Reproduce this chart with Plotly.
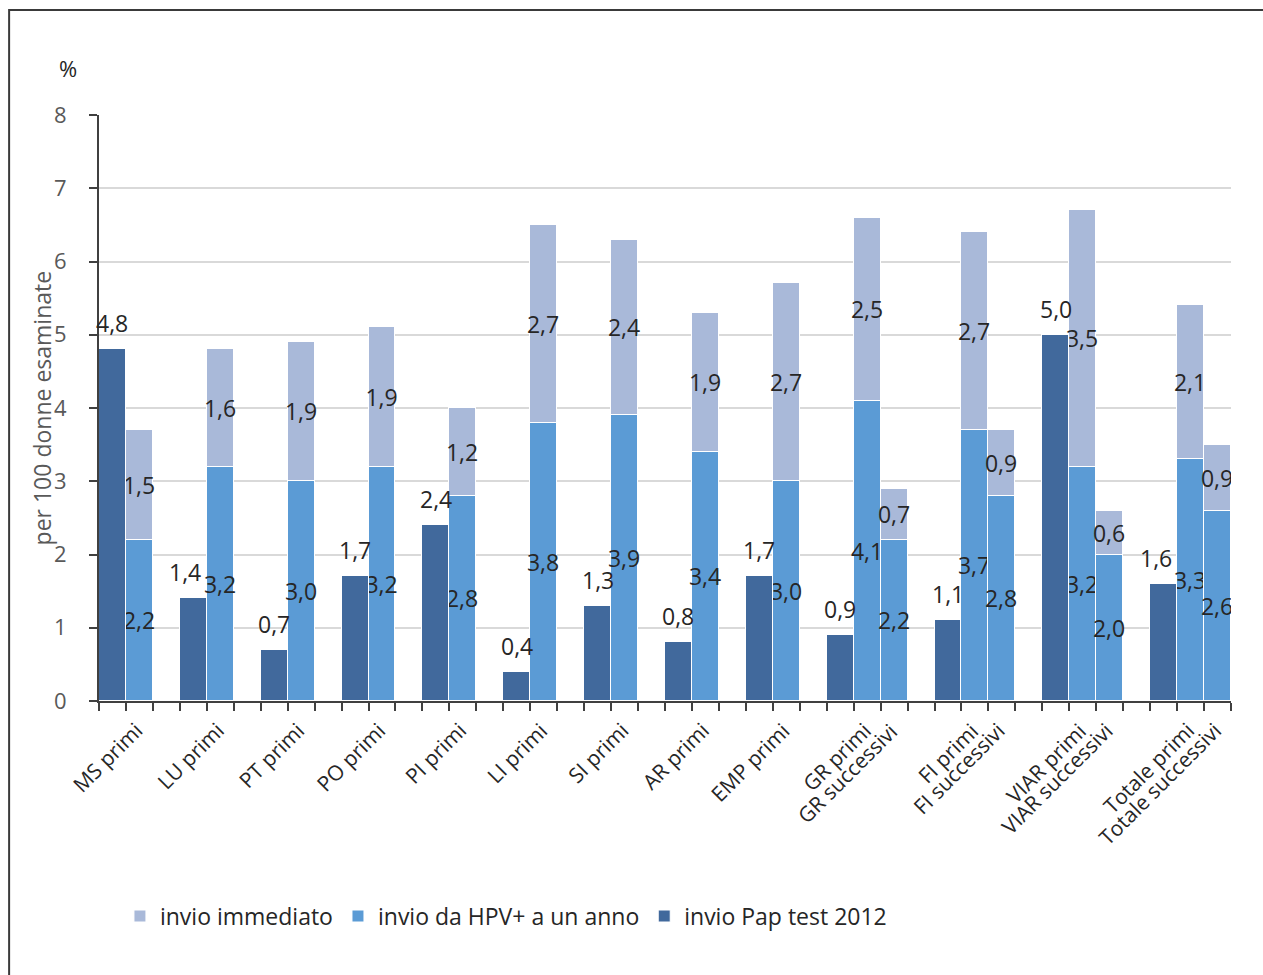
import plotly.graph_objects as go

# Screening programmes (areas) and referral rates per 100 women screened
groups = ["MS", "LU", "PT", "PO", "PI", "LI", "SI", "AR", "EMP", "GR", "FI", "VIAR", "Totale"]
pap_2012 = [4.8, 1.4, 0.7, 1.7, 2.4, 0.4, 1.3, 0.8, 1.7, 0.9, 1.1, 5.0, 1.6]
primi_un_anno = [2.2, 3.2, 3.0, 3.2, 2.8, 3.8, 3.9, 3.4, 3.0, 4.1, 3.7, 3.2, 3.3]
primi_immediato = [1.5, 1.6, 1.9, 1.9, 1.2, 2.7, 2.4, 1.9, 2.7, 2.5, 2.7, 3.5, 2.1]
successivi_un_anno = [None] * 9 + [2.2, 2.8, 2.0, 2.6]
successivi_immediato = [None] * 9 + [0.7, 0.9, 0.6, 0.9]

legend_names = ["invio immediato", "invio da HPV+ a un anno", "invio Pap test 2012"]

C_PAP = "#41699C"
C_ANNO = "#5B9BD5"
C_IMM = "#A9B9D9"
TXT = "#262626"
GREY = "#595959"
FONT = "Open Sans"
LBL = 23
PX_PER_UNIT = 586 / 8  # plot height / y range


def fmt(v):
    return f"{v:.1f}".replace(".", ",")


# lay out bar slots: Pap bar, HPV primi, optional HPV successivi, then a gap slot
x_pap, x_hpv, y_anno, y_imm = [], [], [], []
cat_x, cat_txt = [], []
slot = 0
for i, g in enumerate(groups):
    x_pap.append(slot)
    x_hpv.append(slot + 1)
    y_anno.append(primi_un_anno[i])
    y_imm.append(primi_immediato[i])
    cat_x.append(slot + 1)
    cat_txt.append(f"{g} primi")
    if successivi_un_anno[i] is not None:
        x_hpv.append(slot + 2)
        y_anno.append(successivi_un_anno[i])
        y_imm.append(successivi_immediato[i])
        cat_x.append(slot + 2)
        cat_txt.append(f"{g} successivi")
        slot += 4
    else:
        slot += 3
n_slots = slot - 1  # number of bar slots (no trailing gap after the last group)

bar_line = dict(color="white", width=1)

fig = go.Figure()
fig.add_trace(go.Bar(
    x=x_hpv, y=y_anno, name=legend_names[1], legendrank=2, width=1,
    marker=dict(color=C_ANNO, line=bar_line),
    text=[fmt(v) for v in y_anno], textposition="inside", insidetextanchor="middle",
    textangle=0, constraintext="none",
    insidetextfont=dict(family=FONT, size=LBL, color=TXT),
))
fig.add_trace(go.Bar(
    x=x_hpv, y=y_imm, name=legend_names[0], legendrank=1, width=1,
    marker=dict(color=C_IMM, line=bar_line),
    text=[fmt(v) for v in y_imm], textposition="inside", insidetextanchor="middle",
    textangle=0, constraintext="none",
    insidetextfont=dict(family=FONT, size=LBL, color=TXT),
))
fig.add_trace(go.Bar(
    x=x_pap, y=pap_2012, name=legend_names[2], legendrank=3, width=1,
    marker=dict(color=C_PAP, line=bar_line),
))

# value labels above the Pap test bars; nudged left when they would collide
# with the label of the neighbouring HPV bar
lift = 8
for i, (xp, v) in enumerate(zip(x_pap, pap_2012)):
    centre = v + (lift + LBL / 2) / PX_PER_UNIT
    neighbour = primi_un_anno[i] / 2
    clash = abs(centre - neighbour) < 0.3
    fig.add_annotation(
        x=xp, y=v, xref="x", yref="y", text=fmt(v), showarrow=False,
        xanchor="center", yanchor="bottom", yshift=lift, xshift=-8 if clash else 0,
        font=dict(family=FONT, size=LBL, color=TXT),
    )

# category labels, rotated, one under each HPV bar
for cx, ct in zip(cat_x, cat_txt):
    fig.add_annotation(
        x=cx, y=0, xref="x", yref="y", text=ct, textangle=-45,
        showarrow=False, xanchor="right", yanchor="top",
        xshift=12, yshift=-13,
        font=dict(family=FONT, size=21, color=TXT),
    )

fig.add_annotation(
    x=-0.027, y=1.08, xref="paper", yref="paper", text="%", showarrow=False,
    xanchor="center", yanchor="middle",
    font=dict(family=FONT, size=22, color=TXT),
)
fig.add_annotation(
    x=-0.05, y=0.5, xref="paper", yref="paper", text="per 100 donne esaminate",
    textangle=-90, showarrow=False, xanchor="center", yanchor="middle",
    font=dict(family=FONT, size=23, color=GREY),
)

# outer chart frame
fig.add_shape(type="rect", xref="paper", yref="paper",
              x0=-0.0794, x1=1.06, y0=-0.48, y1=1.179,
              line=dict(color="#3A3A3A", width=2), fillcolor="rgba(0,0,0,0)")

fig.update_layout(
    width=1263, height=975,
    margin=dict(l=99, r=32, t=115, b=274),
    paper_bgcolor="white", plot_bgcolor="white",
    barmode="stack", bargap=0,
    font=dict(family=FONT, color=TXT),
    showlegend=True,
    legend=dict(orientation="h", x=0.0185, y=-0.367, xanchor="left", yanchor="middle",
                traceorder="normal",
                font=dict(family=FONT, size=23, color=TXT), itemwidth=30),
    xaxis=dict(
        range=[-0.5, n_slots - 0.5], showgrid=False, zeroline=False,
        showline=True, linecolor="#404040", linewidth=2,
        showticklabels=False, ticks="",
        minor=dict(tickvals=[k - 0.5 for k in range(n_slots + 1)], ticks="outside",
                   ticklen=8, tickwidth=2, tickcolor="#404040", showgrid=False),
    ),
    yaxis=dict(
        range=[0, 8], dtick=1, showgrid=True, gridcolor="#D9D9D9", gridwidth=2,
        zeroline=False, showline=True, linecolor="#404040", linewidth=2,
        ticks="outside", ticklen=8, tickwidth=2, tickcolor="#404040",
        tickfont=dict(family=FONT, size=22, color=GREY), ticklabelstandoff=18,
    ),
)

fig.write_html("out.html")
